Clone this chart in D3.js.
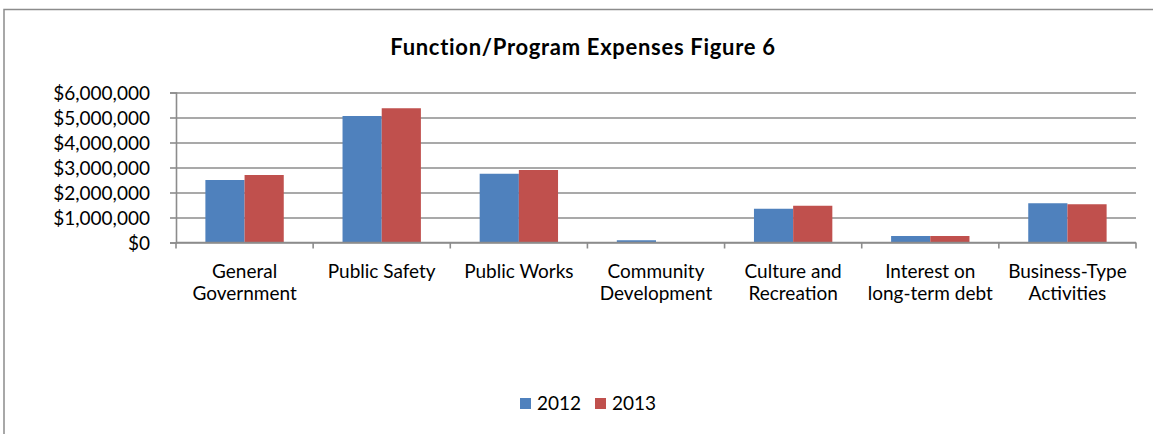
<!DOCTYPE html>
<html>
<head>
<meta charset="utf-8">
<script src="https://cdn.jsdelivr.net/npm/d3@7"></script>
<style>
  html, body { margin: 0; padding: 0; background: #fff; }
  svg { display: block; }
  text { font-family: Lato, "Open Sans", sans-serif; fill: #000; }
</style>
</head>
<body>
<svg id="chart" width="1153" height="434"></svg>
<script>
const categories = [
  ["General", "Government"],
  ["Public Safety"],
  ["Public Works"],
  ["Community", "Development"],
  ["Culture and", "Recreation"],
  ["Interest on", "long-term debt"],
  ["Business-Type", "Activities"]
];
const seriesNames = ["2012", "2013"];
const values2012 = [2500000, 5060000, 2750000, 90000, 1350000, 260000, 1570000];
const values2013 = [2700000, 5370000, 2900000, 0, 1470000, 260000, 1530000];
const yTicks = [0, 1000000, 2000000, 3000000, 4000000, 5000000, 6000000];
const colors = ["#4F81BD", "#C0504D"];
const title = "Function/Program Expenses Figure 6";

const svg = d3.select("#chart");
const m = { left: 176, right: 1136, top: 92.5, bottom: 242.5 };
const FS = "19px";

// chart frame
svg.append("rect").attr("x", 4).attr("y", 9.5).attr("width", 1160).attr("height", 440)
  .attr("fill", "#fff").attr("stroke", "#8c8c8c").attr("stroke-width", 1.5);

const idx = d3.range(categories.length);
const x = d3.scaleBand().domain(idx).range([m.left, m.right]).paddingInner(0).paddingOuter(0);
const y = d3.scaleLinear().domain([0, 6000000]).range([m.bottom, m.top]);

const bw = x.bandwidth() / 3.5;
const x1 = d3.scaleBand().domain([0, 1]).range([bw * 0.75, bw * 2.75]).padding(0);

// gridlines
const gridAxis = d3.axisLeft(y).tickValues(yTicks).tickSize(-(m.right - m.left)).tickFormat("");
const gg = svg.append("g").attr("transform", `translate(${m.left},0)`).call(gridAxis);
gg.select(".domain").remove();
gg.selectAll("line").attr("stroke", "#8c8c8c").attr("stroke-width", 1.6);

// y axis
const fmt = v => "$" + d3.format(",")(v);
const ya = svg.append("g").attr("transform", `translate(${m.left},0)`)
  .call(d3.axisLeft(y).tickValues(yTicks).tickSize(6).tickPadding(20).tickFormat(fmt));
ya.select(".domain").attr("stroke", "#8c8c8c").attr("stroke-width", 1.6);
ya.selectAll("line").attr("stroke", "#8c8c8c").attr("stroke-width", 1.6);
ya.selectAll("text").style("font-size", FS).attr("dy", "0.35em");

// bars
const series = [values2012, values2013];
series.forEach((vals, si) => {
  svg.append("g").selectAll("rect").data(idx).join("rect")
    .attr("x", i => x(i) + x1(si))
    .attr("width", x1.bandwidth())
    .attr("y", i => y(vals[i]))
    .attr("height", i => y(0) - y(vals[i]))
    .attr("fill", colors[si]);
});

// x axis
const xa = svg.append("g").attr("transform", `translate(0,${m.bottom})`);
xa.append("line").attr("x1", m.left).attr("x2", m.right).attr("stroke", "#8c8c8c").attr("stroke-width", 1.6);
const bounds = idx.map(i => x(i)).concat([m.right]);
xa.selectAll("line.tk").data(bounds).join("line").attr("class", "tk")
  .attr("x1", d => d).attr("x2", d => d).attr("y1", 0).attr("y2", 6)
  .attr("stroke", "#8c8c8c").attr("stroke-width", 1.6);
idx.forEach(i => {
  const t = xa.append("text").attr("text-anchor", "middle").style("font-size", FS)
    .attr("x", x(i) + x.bandwidth() / 2).attr("y", 35);
  categories[i].forEach((ln, k) => {
    t.append("tspan").attr("x", x(i) + x.bandwidth() / 2).attr("dy", k === 0 ? 0 : 22).text(ln);
  });
});

// title
svg.append("text").attr("x", 583).attr("y", 55).attr("text-anchor", "middle")
  .style("font-size", "22px").style("font-weight", "bold").style("letter-spacing", "0.7px").text(title);

// legend
const lg = svg.append("g");
const lx = [520, 595];
seriesNames.forEach((n, i) => {
  lg.append("rect").attr("x", lx[i]).attr("y", 398).attr("width", 11).attr("height", 11).attr("fill", colors[i]);
  lg.append("text").attr("x", lx[i] + 17).attr("y", 410).style("font-size", FS).text(n);
});
</script>
</body>
</html>
